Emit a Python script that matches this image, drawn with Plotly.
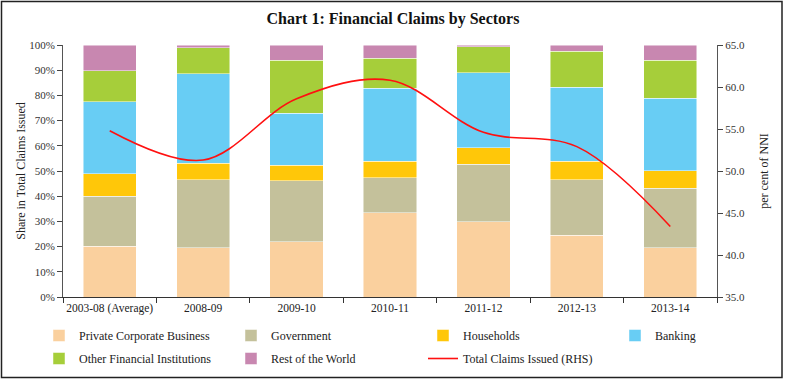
import plotly.graph_objects as go

categories = ["2003-08 (Average)", "2008-09", "2009-10", "2010-11", "2011-12", "2012-13", "2013-14"]
private_corporate = [20.1, 19.6, 21.9, 33.4, 29.8, 24.6, 19.5]
government = [19.9, 26.9, 24.3, 14.0, 22.8, 22.0, 23.7]
households = [9.0, 6.5, 6.1, 6.5, 6.6, 7.3, 7.0]
banking = [28.4, 35.5, 20.7, 28.9, 29.7, 29.3, 28.6]
other_fin = [12.3, 10.4, 21.0, 12.0, 10.4, 14.4, 15.1]
rest_world = [10.3, 1.1, 6.0, 5.2, 0.7, 2.4, 6.1]
total_claims = [54.8, 51.3, 58.6, 60.8, 54.6, 52.9, 43.4]

left_ticks = [0, 10, 20, 30, 40, 50, 60, 70, 80, 90, 100]
right_ticks = [35, 40, 45, 50, 55, 60, 65]

FONT = "Liberation Serif"
W, H = 786, 382
L, R, T, B = 63, 69, 45, 85
PW, PH = W - L - R, H - T - B

def px_x(x):
    return (x - L) / PW

def px_y(y):
    return (H - B - y) / PH

# (name, values, colour, legend id)
series = [
    ("Private Corporate Business", private_corporate, "#FAD09E", "legend"),
    ("Government", government, "#C4C19B", "legend2"),
    ("Households", households, "#FFC709", "legend3"),
    ("Banking", banking, "#68CDF4", "legend4"),
    ("Other Financial Institutions", other_fin, "#A6CE3A", "legend"),
    ("Rest of the World", rest_world, "#C887B0", "legend2"),
]

fig = go.Figure()
for name, vals, col, lg in series:
    fig.add_trace(go.Bar(
        x=categories, y=vals, name=name, legend=lg, legendgroup=name,
        marker=dict(color=col, line=dict(color="rgba(255,255,255,0.6)", width=0.8)),
    ))

fig.add_trace(go.Scatter(
    x=categories, y=total_claims, name="Total Claims Issued (RHS)",
    yaxis="y2", mode="lines", legend="legend3", legendgroup="total",
    line=dict(color="#FF1010", width=1.6, shape="spline", smoothing=1.0),
))

LEG_TOP = 321
text_x = [75, 267, 459, 651]

def legend_cfg(tx):
    return dict(
        orientation="v", x=px_x(tx - 36), xanchor="left", y=px_y(LEG_TOP), yanchor="top",
        traceorder="grouped", tracegroupgap=4,
        font=dict(family=FONT, size=12, color="#222222"),
        bgcolor="rgba(0,0,0,0)", borderwidth=0,
    )

fig.update_layout(
    width=W, height=H,
    margin=dict(l=L, r=R, t=T, b=B, autoexpand=False),
    paper_bgcolor="white", plot_bgcolor="white",
    barmode="stack", bargap=0.43,
    font=dict(family=FONT, size=12, color="#222222"),
    title=dict(text="<b>Chart 1: Financial Claims by Sectors</b>", x=0.5, xref="container",
               y=1 - 18 / H, yref="container", yanchor="middle",
               font=dict(family=FONT, size=16, color="#111111")),
    xaxis=dict(
        type="category", tickson="boundaries", ticks="outside", ticklen=5,
        tickcolor="#333333", showline=True, linecolor="#333333", linewidth=1,
        showgrid=False, tickangle=0, automargin=False,
        tickfont=dict(family=FONT, size=11.5, color="#222222"),
    ),
    yaxis=dict(
        range=[0, 100], tickvals=left_ticks, ticktext=[f"{v}%" for v in left_ticks],
        ticks="outside", ticklen=5, tickcolor="#444444", showline=True,
        linecolor="#555555", linewidth=1, showgrid=False, zeroline=False, automargin=False,
        tickfont=dict(family=FONT, size=11, color="#333333"),
        title=dict(text="Share in Total Claims Issued", font=dict(family=FONT, size=12, color="#222222"), standoff=0),
    ),
    yaxis2=dict(
        range=[35, 65], tickvals=right_ticks, ticktext=[f"{v:.1f}" for v in right_ticks],
        overlaying="y", side="right", ticks="outside", ticklen=5,
        tickcolor="#444444", showline=True, linecolor="#555555", linewidth=1,
        showgrid=False, zeroline=False, automargin=False,
        tickfont=dict(family=FONT, size=11, color="#333333"),
        title=dict(text="per cent of NNI", font=dict(family=FONT, size=12, color="#222222"), standoff=15),
    ),
    legend=legend_cfg(text_x[0]),
    legend2=legend_cfg(text_x[1]),
    legend3=legend_cfg(text_x[2]),
    legend4=legend_cfg(text_x[3]),
    shapes=[dict(
        type="rect", xref="paper", yref="paper",
        x0=px_x(1.5), x1=px_x(782), y0=px_y(377.5), y1=px_y(1.5),
        line=dict(color="#222222", width=1.5), fillcolor="rgba(0,0,0,0)", layer="above",
    )],
)

fig.write_html("out.html", config={"displayModeBar": False},
               post_script="document.body.style.margin='0';")
